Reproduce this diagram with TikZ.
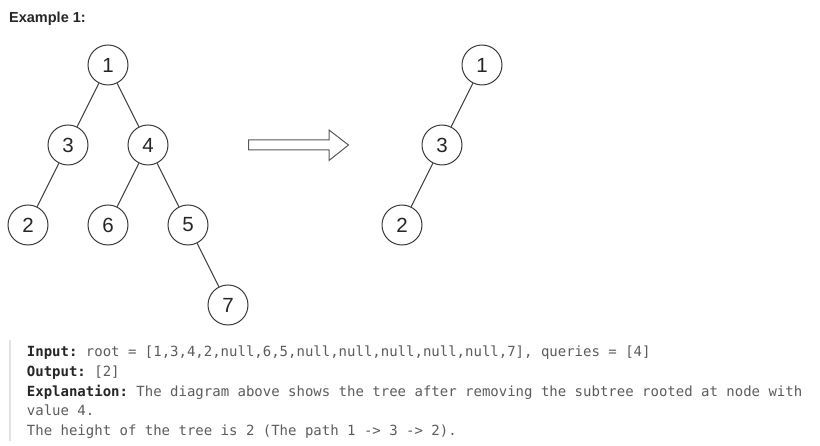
\documentclass[tikz,border=0pt]{standalone}
\usepackage{fontspec}
\setmainfont{Liberation Sans}
\setmonofont{DejaVu Sans Mono}
\definecolor{stroke}{HTML}{3A3A3A}
\definecolor{txtgray}{HTML}{5C5C5C}
\definecolor{txtdark}{HTML}{262626}
\definecolor{barcol}{HTML}{E3E3E3}
\begin{document}
\begin{tikzpicture}[x=1pt,y=-1pt,
  tnode/.style={circle,draw=stroke,line width=1pt,minimum size=40pt,inner sep=0pt,fill=white,font=\fontsize{20.5}{22}\selectfont,text=txtdark},
  tedge/.style={draw=stroke,line width=0.9pt},
  codeline/.style={anchor=base west,inner sep=0pt,font=\fontsize{14}{18}\ttfamily,text=txtgray}]
\useasboundingbox (0,0) rectangle (820,446);
\fill[white] (0,0) rectangle (820,446);
\node[anchor=base west,inner sep=0pt,font=\fontsize{14.5}{16}\selectfont\bfseries,text=txtdark] (title) at (9,22.5) {Example 1:};
% left tree
\node[tnode] (a1) at (108,65) {1};
\node[tnode] (a3) at (68,145) {3};
\node[tnode] (a4) at (148,145) {4};
\node[tnode] (a2) at (28,225) {2};
\node[tnode] (a6) at (108,225) {6};
\node[tnode] (a5) at (188,225) {5};
\node[tnode] (a7) at (228,305) {7};
\draw[tedge] (a1) -- (a3);
\draw[tedge] (a1) -- (a4);
\draw[tedge] (a3) -- (a2);
\draw[tedge] (a4) -- (a6);
\draw[tedge] (a4) -- (a5);
\draw[tedge] (a5) -- (a7);
% right tree
\node[tnode] (b1) at (482,65) {1};
\node[tnode] (b3) at (442,145) {3};
\node[tnode] (b2) at (402,225) {2};
\draw[tedge] (b1) -- (b3);
\draw[tedge] (b3) -- (b2);
% hollow arrow
\draw[draw=stroke!85,line width=1pt,fill=white,line join=miter]
  (248.5,140) -- (329,140) -- (329,130) -- (348.5,145) -- (329,160.5) -- (329,150) -- (248.5,150) -- cycle;
% code block
\fill[barcol] (8.5,340) rectangle (10.5,441);
\node[codeline] (l1) at (26.7,356.7) {\textcolor{txtdark}{\bfseries Input:} root = [1,3,4,2,null,6,5,null,null,null,null,null,7], queries = [4]};
\node[codeline] (l2) at (26.7,376.4) {\textcolor{txtdark}{\bfseries Output:} [2]};
\node[codeline] (l3) at (26.7,396.1) {\textcolor{txtdark}{\bfseries Explanation:} The diagram above shows the tree after removing the subtree rooted at node with};
\node[codeline] (l4) at (26.7,415.6) {value 4.};
\node[codeline] (l5) at (26.7,435.2) {The height of the tree is 2 (The path 1 -> 3 -> 2).};
\end{tikzpicture}
\end{document}
